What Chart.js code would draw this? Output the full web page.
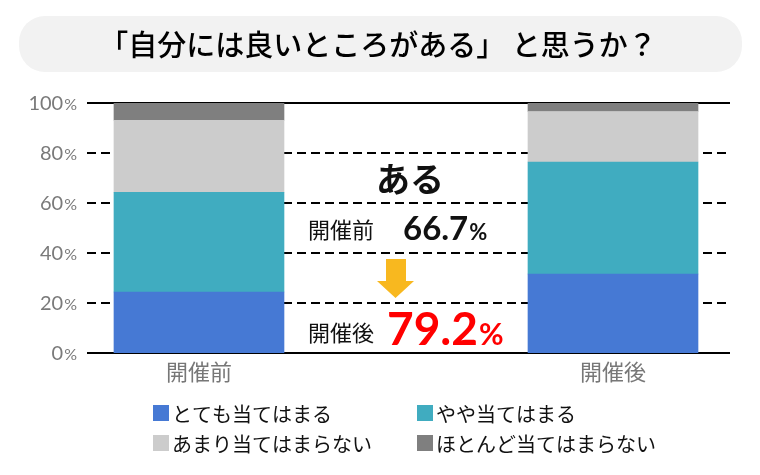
<!DOCTYPE html>
<html lang="ja">
<head>
<meta charset="utf-8">
<script src="https://cdn.jsdelivr.net/npm/chart.js"></script>
<style>
  html, body { margin:0; padding:0; background:#fff; }
  #wrap { width:760px; height:475px; position:relative; }
</style>
</head>
<body>
<div id="wrap"><canvas id="c"></canvas></div>
<script>
// ===== data =====
const periods     = ['開催前', '開催後'];
const seriesNames = ['とても当てはまる', 'やや当てはまる', 'あまり当てはまらない', 'ほとんど当てはまらない'];
const veryTrue    = [24.4, 31.6];
const fairlyTrue  = [39.9, 44.8];
const notReally   = [28.8, 20.2];
const notAtAll    = [6.9, 3.4];
const yTicks      = [0, 20, 40, 60, 80, 100];
const aruBefore   = 66.7;
const aruAfter    = 79.2;
const titleText   = '「自分には良いところがある」 と思うか？';

const colors = ['#4679d4', '#40acc0', '#cccccc', '#7f7f7f'];
const JP = '"Noto Sans CJK JP", "Noto Sans", sans-serif';
const NUM = 'Lato, "Noto Sans", sans-serif';

const toPts = (arr) => arr.map((v, i) => ({ x: i, y: v }));

// number + smaller "%" drawn side by side
function pct(ctx, str, x, y, big, small, weight, color, align) {
  ctx.fillStyle = color;
  ctx.textBaseline = 'alphabetic';
  ctx.font = `${weight} ${big}px ${NUM}`;
  const w1 = ctx.measureText(str).width;
  ctx.font = `${weight} ${small}px ${NUM}`;
  const w2 = ctx.measureText('%').width;
  const x0 = align === 'right' ? x - w1 - w2 - 1 : x;
  ctx.textAlign = 'left';
  ctx.font = `${weight} ${big}px ${NUM}`;
  ctx.fillText(str, x0, y);
  ctx.font = `${weight} ${small}px ${NUM}`;
  ctx.fillText('%', x0 + w1 + 1, y);
}

const decor = {
  id: 'decor',
  beforeDatasetsDraw(chart) {
    const { ctx, chartArea: a, scales: { y } } = chart;
    ctx.save();
    ctx.strokeStyle = '#000';
    ctx.lineWidth = 2;
    yTicks.forEach(t => {
      const py = Math.round(y.getPixelForValue(t));
      ctx.setLineDash(t === 0 || t === 100 ? [] : [9, 5]);
      ctx.beginPath(); ctx.moveTo(a.left, py); ctx.lineTo(a.right, py); ctx.stroke();
    });
    ctx.restore();
  },
  afterDraw(chart) {
    const { ctx, scales: { x, y } } = chart;
    ctx.save();

    // title pill
    ctx.fillStyle = '#f2f2f2';
    ctx.beginPath(); ctx.roundRect(19, 16, 723, 56, 26); ctx.fill();
    ctx.fillStyle = '#000';
    ctx.font = `500 29px ${JP}`;
    ctx.textAlign = 'center'; ctx.textBaseline = 'middle';
    ctx.fillText(titleText, 378, 45);

    // y tick labels
    yTicks.forEach(t => pct(ctx, String(t), 77, y.getPixelForValue(t) + 7, 20, 16, 400, '#7a7a7a', 'right'));

    // x labels
    ctx.fillStyle = '#777';
    ctx.font = `400 22px ${JP}`;
    ctx.textAlign = 'center'; ctx.textBaseline = 'middle';
    periods.forEach((p, i) => ctx.fillText(p, x.getPixelForValue(i), 372));

    // centre summary
    ctx.fillStyle = '#111';
    ctx.font = `700 34px ${JP}`;
    ctx.fillText('ある', 410, 179);
    ctx.font = `400 22px ${JP}`;
    ctx.textAlign = 'left';
    ctx.fillText('開催前', 308, 230);
    ctx.fillText('開催後', 308, 333);
    pct(ctx, aruBefore.toFixed(1), 403, 240, 33, 22, 700, '#111');
    pct(ctx, aruAfter.toFixed(1), 387, 345, 46, 30, 700, '#ff0000');

    // arrow
    ctx.fillStyle = '#f8b81f';
    ctx.beginPath();
    ctx.moveTo(386, 259); ctx.lineTo(406, 259); ctx.lineTo(406, 281); ctx.lineTo(414, 281);
    ctx.lineTo(395.5, 298); ctx.lineTo(377, 281); ctx.lineTo(386, 281);
    ctx.closePath(); ctx.fill();

    // legend (2 x 2)
    const pos = [[153, 405], [417, 405], [153, 435], [417, 435]];
    ctx.font = `400 20px ${JP}`;
    ctx.textBaseline = 'middle';
    seriesNames.forEach((n, i) => {
      const [lx, ly] = pos[i];
      ctx.fillStyle = colors[i];
      ctx.fillRect(lx, ly, 16, 16);
      ctx.fillStyle = '#111';
      ctx.fillText(n, lx + 19, ly + 9);
    });
    ctx.restore();
  }
};

new Chart(document.getElementById('c').getContext('2d'), {
  type: 'bar',
  data: {
    datasets: [veryTrue, fairlyTrue, notReally, notAtAll].map((d, i) => ({
      label: seriesNames[i], data: toPts(d), backgroundColor: colors[i],
      borderWidth: 0, barThickness: 170, grouped: false
    }))
  },
  options: {
    responsive: true,
    maintainAspectRatio: false,
    animation: false,
    layout: { padding: { left: 87, right: 30, top: 103, bottom: 122 } },
    plugins: { legend: { display: false }, tooltip: { enabled: false } },
    scales: {
      x: { type: 'linear', min: -0.2705, max: 1.2826, offset: false, display: false },
      y: { stacked: true, min: 0, max: 100, display: false }
    }
  },
  plugins: [decor]
});
</script>
</body>
</html>
